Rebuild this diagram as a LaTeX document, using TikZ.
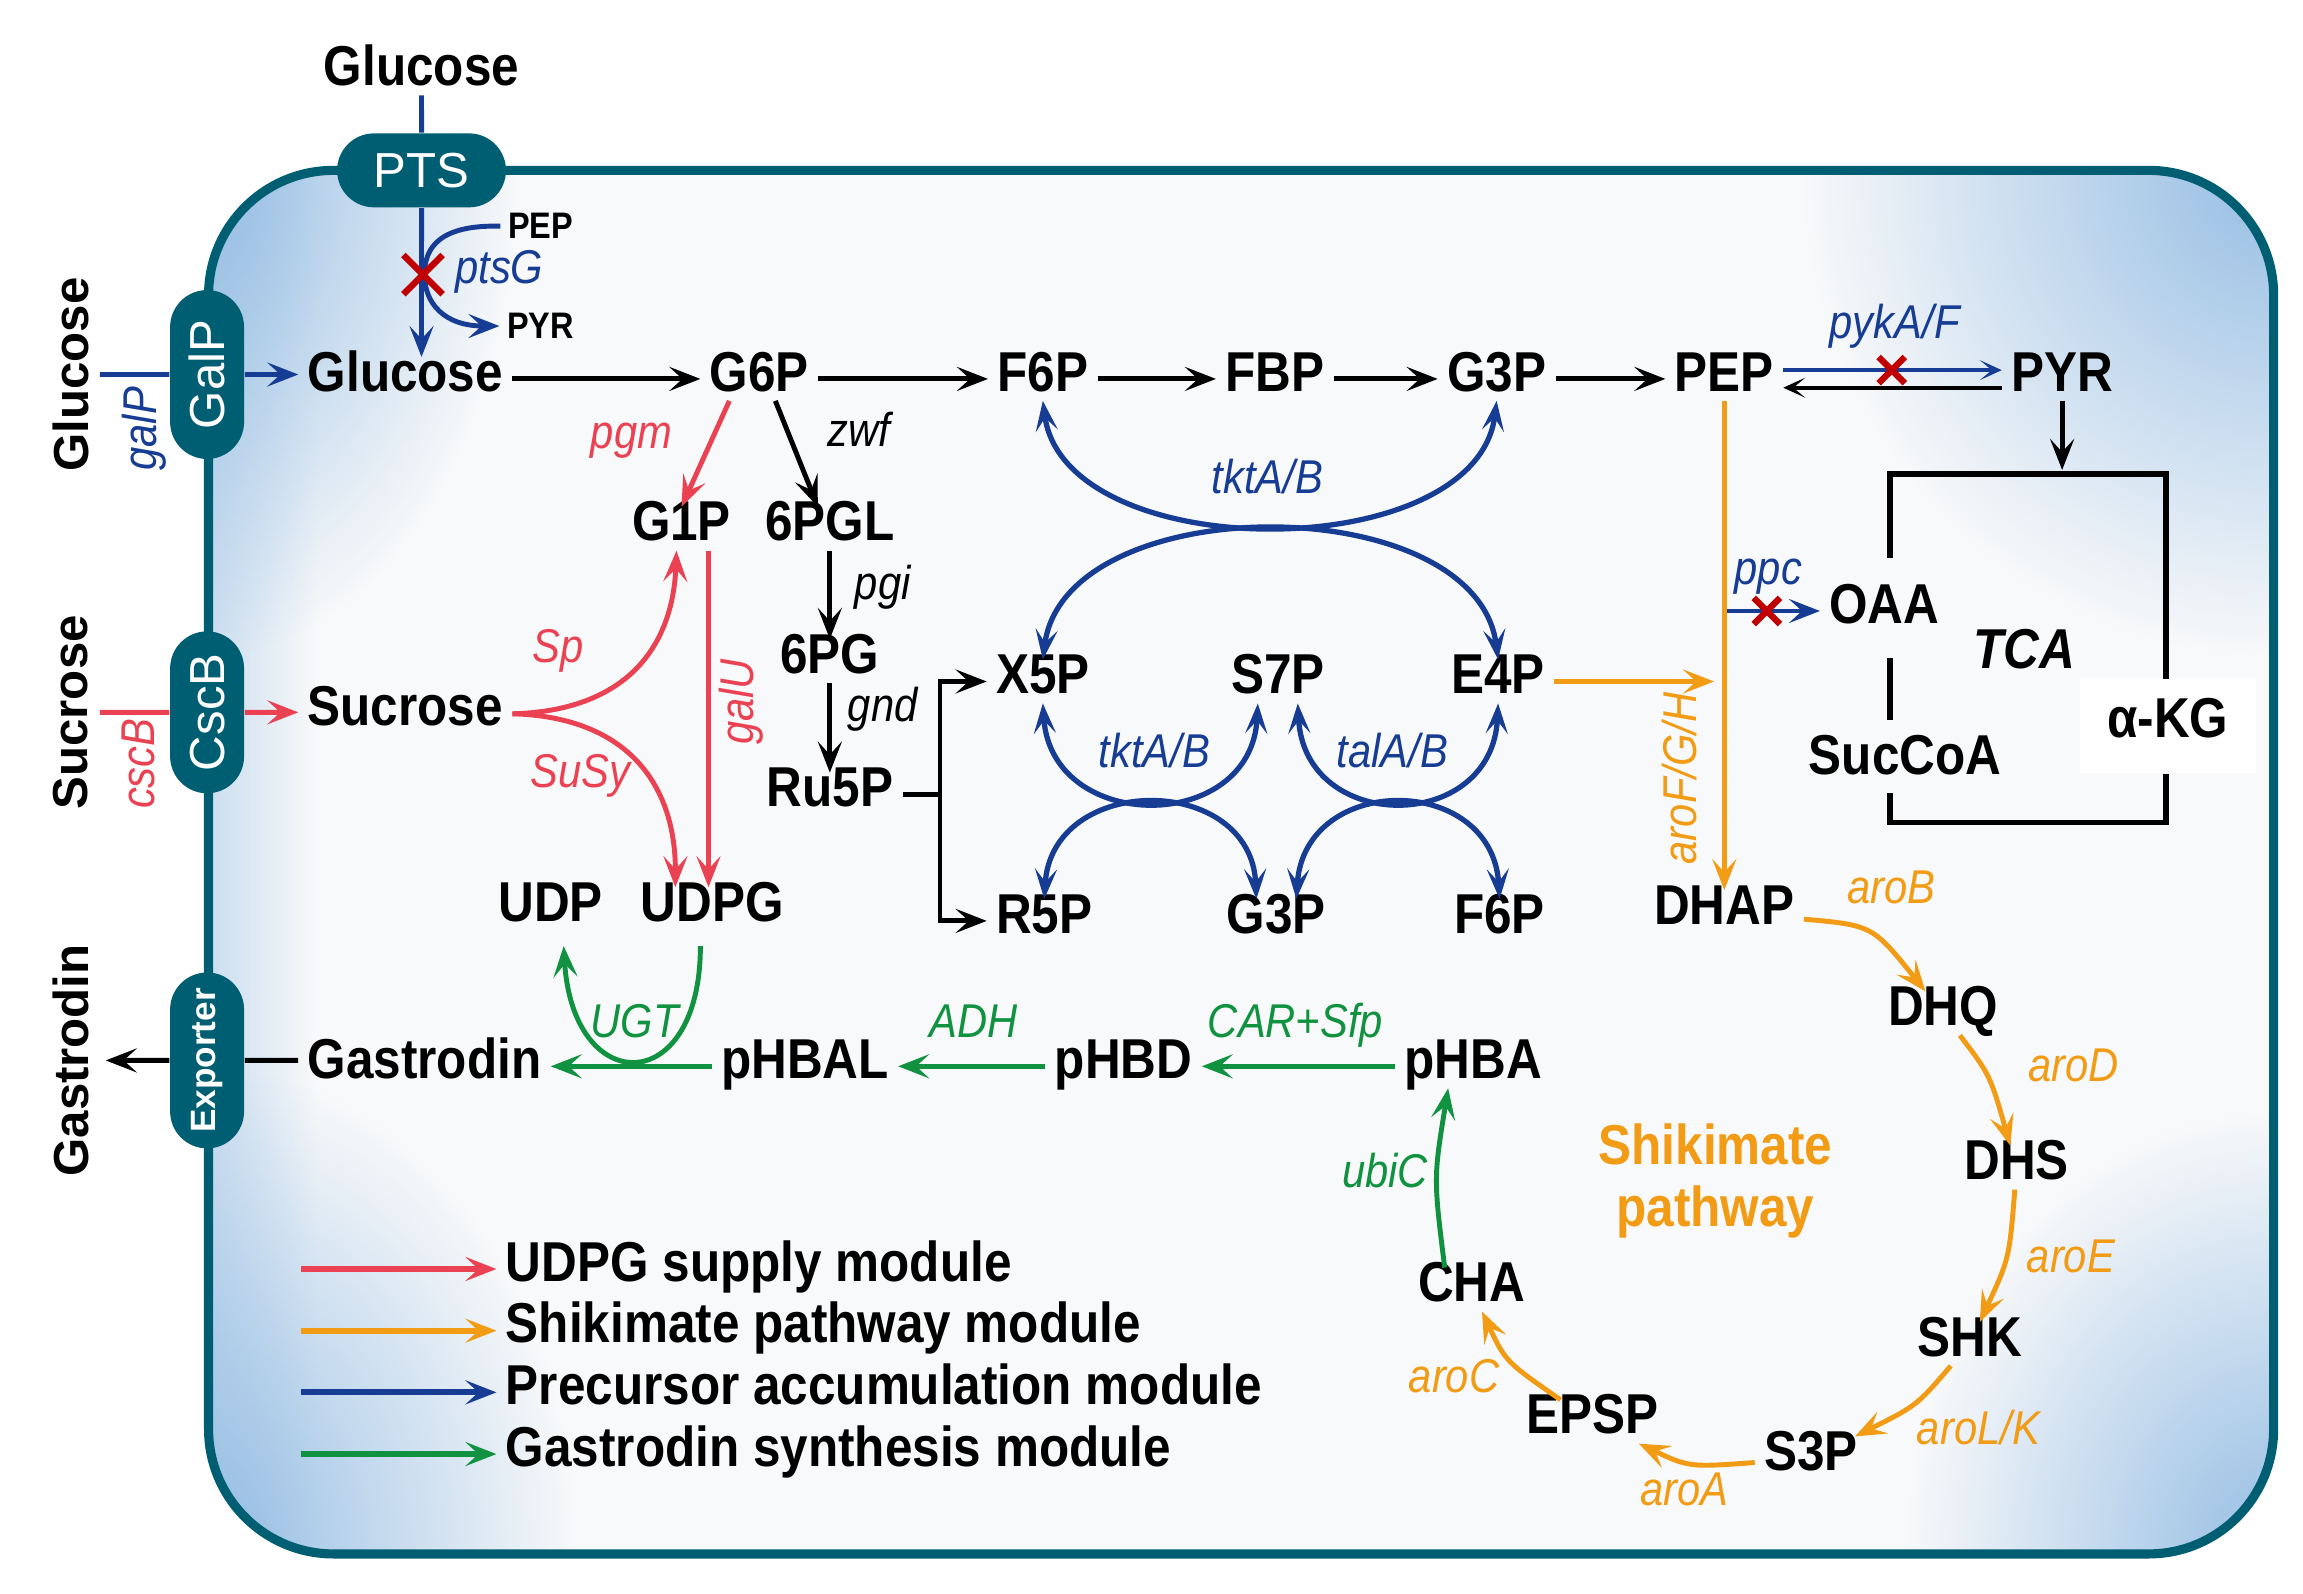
\documentclass[tikz,border=0pt]{standalone}
\usepackage{fontspec}
\setmainfont{Liberation Sans}[FakeStretch=0.88]
\newfontfamily\widesans{Liberation Sans}
\usetikzlibrary{arrows.meta,shapes.misc,fadings}

\definecolor{membrane}{RGB}{0,94,115}
\definecolor{redc}{RGB}{234,66,82}
\definecolor{orangec}{RGB}{242,155,20}
\definecolor{bluec}{RGB}{22,60,148}
\definecolor{greenc}{RGB}{16,146,64}
\definecolor{xred}{RGB}{192,0,0}
\definecolor{cellbase}{RGB}{248,249,250}
\definecolor{cellblue}{RGB}{150,190,228}

\tikzfading[name=glowfade, inner color=transparent!0, outer color=transparent!100]

\begin{document}
\begin{tikzpicture}[x=0.01469cm, y=-0.01469cm,
    metab/.style={font=\fontsize{16}{18}\selectfont\bfseries, inner xsep=2.5pt, inner ysep=0.5pt,
      text height=0.9em, text depth=0.21em},
    smallmetab/.style={font=\fontsize{10.5}{12}\selectfont\bfseries, inner sep=2pt},
    enz/.style={font=\fontsize{13.5}{15}\selectfont\itshape, inner sep=1pt,
      text height=0.9em, text depth=0.21em},
    side/.style={font=\widesans\fontsize{14}{16}\selectfont\bfseries, rotate=90},
    pill/.style={rounded rectangle, fill=membrane, text=white, minimum height=0.74cm,
      inner sep=0pt, font=\widesans\fontsize{14}{16}\selectfont},
    knock/.style={cross out, draw=xred, line width=1.8pt, minimum size=#1, inner sep=0pt},
    glow/.style={fill=cellblue, path fading=glowfade},
    tip/.style={-{Stealth[length=3.1mm,width=2.4mm,inset=1.3mm]}},
    thintip/.style={-{Stealth[length=2.2mm,width=2mm,inset=1.2mm]}},
    blackarr/.style={line width=1.4pt, tip},
    redarr/.style={line width=1.4pt, redc, tip},
    orangearr/.style={line width=1.4pt, orangec, tip},
    bluearr/.style={line width=1.4pt, bluec, tip},
    greenarr/.style={line width=1.4pt, greenc, tip},
    bluedbl/.style={line width=1.5pt, bluec,
      {Stealth[length=3mm,width=2.2mm,inset=1.3mm]}-{Stealth[length=3mm,width=2.2mm,inset=1.3mm]}}]

\useasboundingbox (0,0) rectangle (1568,1085);

% Cell
\begin{scope}
\clip[rounded corners=1.25cm] (142,116) rectangle (1548,1058);
\fill[cellbase] (142,116) rectangle (1548,1058);
\fill[cellblue, fill opacity=0.45, path fading=east] (142,116) rectangle (215,1058);
\fill[glow] (142,116) ellipse [x radius=210, y radius=330];
\fill[glow] (142,1058) ellipse [x radius=250, y radius=330];
\fill[glow] (1548,116) ellipse [x radius=320, y radius=330];
\fill[glow] (1548,1058) ellipse [x radius=250, y radius=300];
\end{scope}
\draw[membrane, line width=2.6pt, rounded corners=1.25cm] (142,116) rectangle (1548,1058);

% Outside substrates and products
\node[metab] (glcout) at (287,50) {Glucose};
\node[side] (glcside) at (48,255) {Glucose};
\node[side] (sucside) at (48,485) {Sucrose};
\node[side] (gasside) at (48,722) {Gastrodin};
\coordinate (galpin) at (68,255);
\coordinate (cscbin) at (68,485);
\coordinate (gasout) at (72,722);

% Transporters
\node[pill, minimum width=1.69cm] (pts) at (287,116) {PTS};
\node[pill, rotate=90, minimum width=1.69cm] (galp) at (141,255) {GalP};
\node[pill, rotate=90, minimum width=1.62cm] (cscb) at (141,485) {CscB};
\node[pill, rotate=90, minimum width=1.76cm,
  font=\widesans\fontsize{10}{12}\selectfont\bfseries] (expo) at (141,722) {Exporter};

% Glycolysis row
\node[metab] (glcin) at (276,258) {Glucose};
\node[metab] (g6p) at (517,258) {G6P};
\node[metab] (f6p) at (710,258) {F6P};
\node[metab] (fbp) at (868,258) {FBP};
\node[metab] (g3p) at (1019,258) {G3P};
\node[metab] (pep) at (1174,258) {PEP};
\node[metab] (pyr) at (1404,258) {PYR};
\node[smallmetab] (peps) at (368,154) {PEP};
\node[smallmetab] (pyrs) at (368,222) {PYR};

% UDPG supply
\node[metab] (sucr) at (276,486) {Sucrose};
\node[metab] (g1p) at (464,360) {G1P};
\node[metab] (udp) at (375,619) {UDP};
\node[metab] (udpg) at (485,619) {UDPG};

% Pentose phosphate pathway
\node[metab] (pgl) at (565,360) {6PGL};
\node[metab] (pg) at (565,450) {6PG};
\node[metab] (ru5p) at (565,541) {Ru5P};
\node[metab] (x5p) at (710,464) {X5P};
\node[metab] (s7p) at (870,464) {S7P};
\node[metab] (e4p) at (1020,464) {E4P};
\node[metab] (r5p) at (711,627) {R5P};
\node[metab] (g3pb) at (869,627) {G3P};
\node[metab] (f6pb) at (1021,627) {F6P};
\coordinate (fork) at (640,541);

% TCA cycle
\node[metab] (oaa) at (1283,416) {OAA};
\node[font=\fontsize{16}{18}\selectfont\bfseries\itshape] (tca) at (1378,442) {TCA};
\node[metab] (succoa) at (1297,519) {SucCoA};
\node[metab, fill=white, minimum width=1.76cm, minimum height=0.95cm] (akg) at (1476,494) {α-KG};
\coordinate (tcain) at (1404,320);
\coordinate (ppcstart) at (1173,416);
\coordinate (arojoin) at (1167,464);

% Shikimate pathway
\node[metab] (dhap) at (1174,621) {DHAP};
\node[metab] (dhq) at (1323,690) {DHQ};
\node[metab] (dhs) at (1373,795) {DHS};
\node[metab] (shk) at (1341,915) {SHK};
\node[metab] (s3p) at (1233,993) {S3P};
\node[metab] (epsp) at (1084,968) {EPSP};
\node[metab] (cha) at (1002,878) {CHA};
\node[font=\fontsize{16}{17.5}\selectfont\bfseries, text=orangec, align=center] (shik) at (1168,804) {Shikimate\\pathway};

% Gastrodin synthesis
\node[metab] (phba) at (1003,726) {pHBA};
\node[metab] (phbd) at (765,726) {pHBD};
\node[metab] (phbal) at (548,726) {pHBAL};
\node[metab] (gastro) at (289,726) {Gastrodin};

% Uptake
\draw[line width=1.4pt, bluec] (glcout) -- (pts);
\draw[bluearr] (pts) -- (pts |- glcin.north);
\draw[bluearr] (peps.west) .. controls (300,153) and (289,168) .. (289,187)
  .. controls (289,206) and (302,222) .. (pyrs.west);
\node[knock=0.33cm] (kn1) at (288,187) {};
\draw[line width=1.4pt, bluec] (galpin) -- (galp);
\draw[bluearr] (galp) -- (galp -| glcin.west);
\draw[line width=1.4pt, redc] (cscbin) -- (cscb);
\draw[redarr] (cscb) -- (cscb -| sucr.west);
\draw[line width=1.4pt] (gastro.west |- expo) -- (expo);
\draw[blackarr] (expo) -- (gasout);

% Glycolysis
\draw[blackarr] (glcin) -- (g6p);
\draw[blackarr] (g6p) -- (f6p);
\draw[blackarr] (f6p) -- (fbp);
\draw[blackarr] (fbp) -- (g3p);
\draw[blackarr] (g3p) -- (pep);
\draw[line width=1.2pt, bluec, thintip] ([yshift=2.5pt]pep.east) -- ([yshift=2.5pt]pyr.west);
\draw[line width=1.2pt, thintip] ([yshift=-2.5pt]pyr.west) -- ([yshift=-2.5pt]pep.east);
\node[knock=0.2cm] (kn2) at (1288,252) {};
\draw[blackarr] (pyr) -- (tcain);

% TCA box
\draw[line width=1.7pt] (1287,380) -- (1287,323) -- (1475,323) -- (1475,462);
\draw[line width=1.7pt] (1287,448) -- (1287,490);
\draw[line width=1.7pt] (1287,540) -- (1287,560) -- (1475,560) -- (1475,527);
\draw[bluearr] (ppcstart) -- (oaa);
\node[knock=0.2cm] (kn3) at (1203,416) {};

% UDPG supply
\draw[redarr] ([xshift=-0.3cm]g6p.south) -- (g1p.north);
\draw[redarr] (sucr.east) .. controls (425,484) and (458,442) .. ([xshift=-0.05cm]g1p.south);
\draw[redarr] (sucr.east) .. controls (425,488) and (460,532) .. ([xshift=-0.37cm]udpg.north);
\coordinate (galutop) at ([xshift=0.27cm]g1p.south);
\draw[redarr] (galutop) -- (galutop |- udpg.north);

% Pentose phosphate pathway
\draw[blackarr] ([xshift=0.16cm]g6p.south) -- ([xshift=-0.12cm]pgl.north);
\draw[blackarr] (pgl) -- (pg);
\draw[blackarr] (pg) -- (ru5p);
\draw[line width=1.4pt] (ru5p) -- (fork);
\draw[blackarr] (fork) |- (x5p);
\draw[blackarr] (fork) |- (r5p);
\draw[bluedbl] (f6p.south) .. controls (725,386) and (1005,386) .. (g3p.south);
\draw[bluedbl] (x5p.north) .. controls (725,332) and (1005,332) .. (e4p.north);
\draw[bluedbl] (x5p.south) .. controls (716,568) and (852,568) .. ([xshift=-0.2cm]s7p.south);
\draw[bluedbl] (r5p.north) .. controls (716,526) and (852,526) .. ([xshift=-0.2cm]g3pb.north);
\draw[bluedbl] ([xshift=0.2cm]s7p.south) .. controls (888,568) and (1016,568) .. (e4p.south);
\draw[bluedbl] ([xshift=0.2cm]g3pb.north) .. controls (888,526) and (1016,526) .. (f6pb.north);

% Shikimate pathway
\draw[orangearr] (pep) -- (pep |- dhap.north);
\draw[orangearr] (e4p) -- (arojoin);
\draw[orangearr] (dhap) .. controls (1275,630) .. (dhq);
\draw[orangearr] (dhq) .. controls (1355,732) .. (dhs);
\draw[orangearr] (dhs) .. controls (1368,857) .. (shk);
\draw[orangearr] (shk) .. controls (1305,957) .. (s3p);
\draw[orangearr] (s3p) .. controls (1150,999) .. (epsp);
\draw[orangearr] (epsp) .. controls (1025,927) .. (cha);

% Gastrodin synthesis
\draw[greenarr] ([xshift=-0.27cm]cha.north) .. controls (976,802) .. ([xshift=-0.25cm]phba.south);
\draw[greenarr] (phba) -- (phbd);
\draw[greenarr] (phbd) -- (phbal);
\draw[greenarr] (phbal) -- (gastro);
\draw[greenarr, shorten <=0.15cm, shorten >=0.15cm] ([xshift=-0.12cm]udpg.south)
  .. controls (477,748) and (390,748) .. ([xshift=0.12cm]udp.south);

% Enzyme labels
\node[enz, text=bluec] (ptsg) at (340,185) {ptsG};
\node[enz, text=bluec, rotate=90] (galpg) at (98,292) {galP};
\node[enz, text=redc, rotate=90] (cscbg) at (97,520) {cscB};
\node[enz, text=redc] (pgm) at (430,297) {pgm};
\node[enz] (zwf) at (585,296) {zwf};
\node[enz] (pgi) at (601,400) {pgi};
\node[enz] (gnd) at (601,483) {gnd};
\node[enz, text=redc] (sp) at (380,443) {Sp};
\node[enz, text=redc] (susy) at (395,528) {SuSy};
\node[enz, text=redc, rotate=90] (galu) at (505,478) {galU};
\node[enz, text=bluec] (tkt1) at (863,328) {tktA/B};
\node[enz, text=bluec] (tkt2) at (786,514) {tktA/B};
\node[enz, text=bluec] (tal) at (948,514) {talA/B};
\node[enz, text=bluec] (pyk) at (1290,222) {pykA/F};
\node[enz, text=bluec] (ppc) at (1204,390) {ppc};
\node[enz, text=orangec, rotate=90] (arofgh) at (1147,530) {aroF/G/H};
\node[enz, text=orangec] (arob) at (1288,607) {aroB};
\node[enz, text=orangec] (arod) at (1412,728) {aroD};
\node[enz, text=orangec] (aroe) at (1410,858) {aroE};
\node[enz, text=orangec] (arolk) at (1347,975) {aroL/K};
\node[enz, text=orangec] (aroa) at (1147,1017) {aroA};
\node[enz, text=orangec] (aroc) at (990,940) {aroC};
\node[enz, text=greenc] (ubic) at (943,800) {ubiC};
\node[enz, text=greenc] (carsfp) at (882,698) {CAR+Sfp};
\node[enz, text=greenc] (adh) at (663,698) {ADH};
\node[enz, text=greenc] (ugt) at (432,698) {UGT};

% Legend
\foreach \txt/\col/\y [count=\i] in {UDPG supply module/redc/864,
    Shikimate pathway module/orangec/906,
    Precursor accumulation module/bluec/948,
    Gastrodin synthesis module/greenc/990} {
  \coordinate (leg\i) at (205,\y);
  \node[metab, anchor=west] (legtext\i) at (338,\y) {\txt};
  \draw[line width=1.7pt, \col, tip] (leg\i) -- (legtext\i);
}

\end{tikzpicture}
\end{document}
